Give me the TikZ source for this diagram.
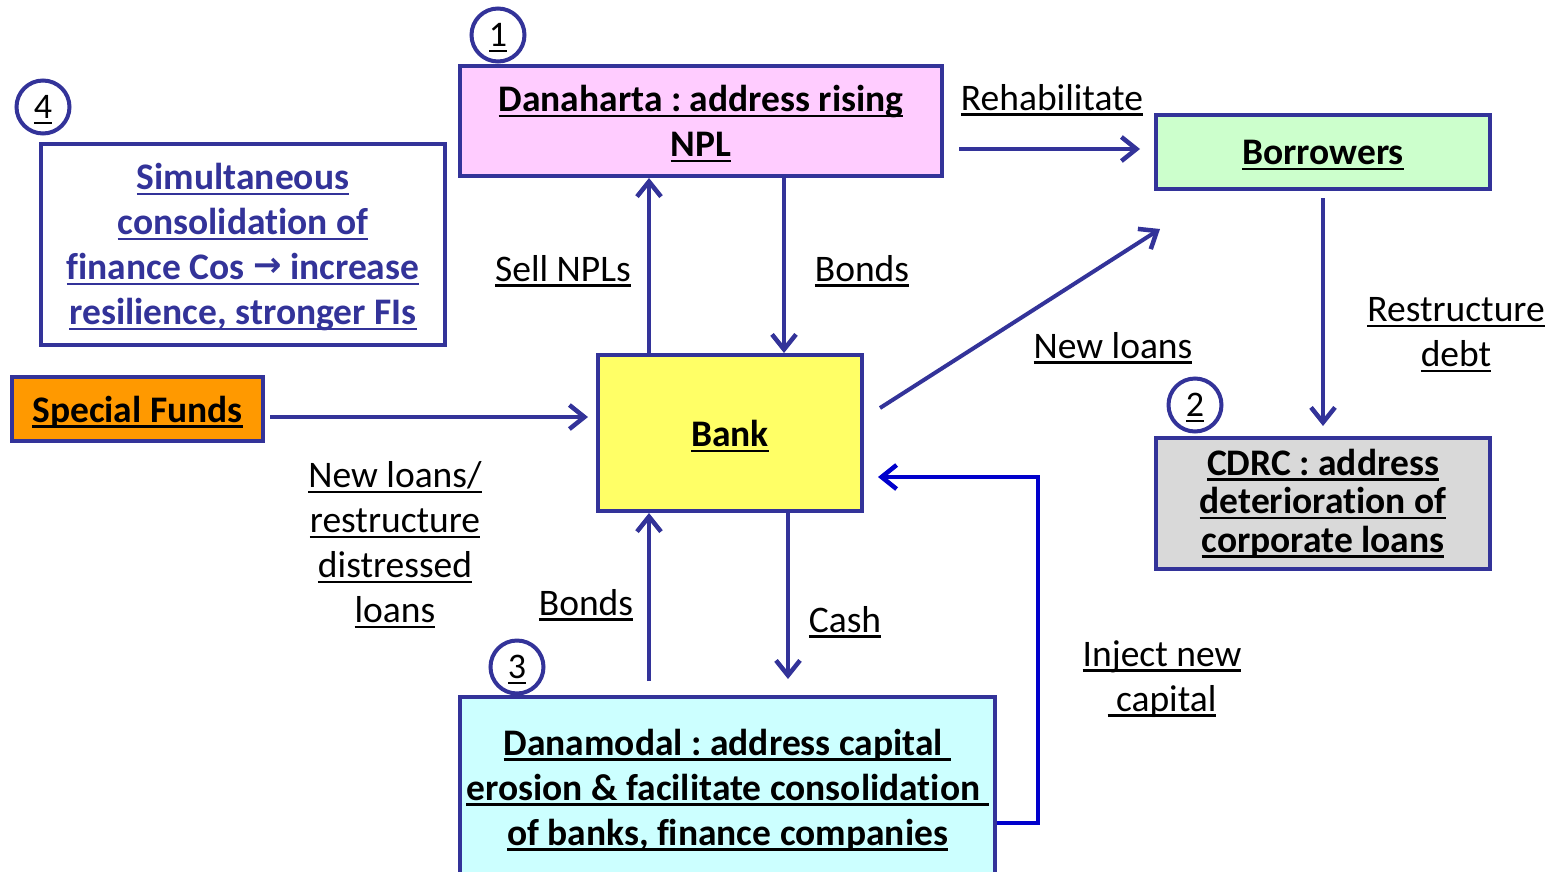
\documentclass[tikz,border=0pt]{standalone}
\usepackage{fontspec}
\setmainfont{Carlito}[Ligatures={NoCommon}]
\newfontfamily\djv{DejaVu Sans}
\usetikzlibrary{arrows.meta,calc}
\definecolor{dblue}{HTML}{333399}
\definecolor{pinkf}{HTML}{FFCCFF}
\definecolor{greenf}{HTML}{CCFFCC}
\definecolor{orangef}{HTML}{FF9900}
\definecolor{yellowf}{HTML}{FFFF66}
\definecolor{grayf}{HTML}{D9D9D9}
\definecolor{cyanf}{HTML}{CCFFFF}
\definecolor{injblue}{HTML}{0000CC}
\frenchspacing
\newcommand\ulin[1]{\setbox0\hbox{#1}\leavevmode\raisebox{-3pt}[\height][\depth]{\rlap{\rule[-5.5pt]{\wd0}{2.4pt}}\copy0}}
\tikzset{
  box/.style={draw=dblue, line width=4pt, rectangle, inner sep=0pt, align=center,
    font=\fontsize{37.5}{45}\selectfont\bfseries},
  lbl/.style={inner sep=0pt, align=center, font=\fontsize{37.5}{45}\selectfont},
  num/.style={draw=dblue, line width=4pt, circle, minimum size=53pt, inner sep=0pt,
    fill=white, font=\fontsize{36}{40}\selectfont},
  arr/.style={draw=dblue, line width=4pt,
    -{Straight Barb[length=15pt,width=24pt,line width=4.5pt]}},
}
\begin{document}
\begin{tikzpicture}[x=1pt,y=-1pt]
\useasboundingbox (0,0) rectangle (1559,871);
\clip (0,0) rectangle (1559,871);
% boxes
\node[box, fill=pinkf, minimum width=482pt, minimum height=110pt] (dana) at (701,121)
  {\ulin{Danaharta : address rising}\\\ulin{NPL}};
\node[box, fill=greenf, minimum width=334pt, minimum height=74pt] (borr) at (1323,152)
  {\ulin{Borrowers}};
\node[box, fill=white, minimum width=404pt, minimum height=201pt, text=dblue] (simu) at (243,244)
  {\ulin{Simultaneous}\\\ulin{consolidation of}\\\ulin{finance Cos {\djv\fontsize{34}{36}\selectfont\raisebox{3pt}{→}} increase}\\\ulin{resilience, stronger FIs}};
\node[box, fill=orangef, minimum width=251pt, minimum height=64pt] (spec) at (137.5,409)
  {\ulin{Special Funds}};
\node[box, fill=yellowf, minimum width=264pt, minimum height=156pt] (bank) at (730,433)
  {\ulin{Bank}};
\node[box, fill=grayf, minimum width=334pt, minimum height=131pt] (cdrc) at (1323,503.5) {};
\node[box, draw=none, font=\fontsize{37.5}{38.5}\selectfont\bfseries] (cdrctxt) at (1323,500.5)
  {\ulin{CDRC : address}\\\ulin{deterioration of}\\\ulin{corporate loans}};
\node[box, fill=cyanf, minimum width=535pt, minimum height=180pt] (dmod) at (727.5,787)
  {\ulin{Danamodal : address capital }\\\ulin{erosion \& facilitate consolidation }\\\ulin{of banks, finance companies}};
% numbered circles
\node[num] (n1) at (498,35) {\ulin{1}};
\node[num] (n4) at (43,107) {\ulin{4}};
\node[num] (n2) at (1195,405) {\ulin{2}};
\node[num] (n3) at (517,667) {\ulin{3}};
% connectors
\coordinate (xa) at (649,0);
\coordinate (xb) at (784,0);
\coordinate (xc) at (788,0);
\coordinate (yr) at (0,149);
\coordinate (ys) at (0,417);
\coordinate (yi) at (0,477);
\coordinate (yj) at (0,823);
\coordinate (nl1) at (880,408);
\coordinate (nl2) at (1160,229);
\coordinate (inj1) at (1038,823);
\coordinate (inj2) at (1038,477);
\draw[arr] (bank.north -| xa) -- (dana.south -| xa);
\draw[arr] (dana.south -| xb) -- (bank.north -| xb);
\draw[arr, shorten <=15pt, shorten >=14pt] (dana.east |- yr) -- (borr.west |- yr);
\draw[arr] (nl1) -- (nl2);
\draw[arr, shorten <=7pt, shorten >=10pt] (borr.south) -- (cdrc.north);
\draw[arr, shorten <=5pt, shorten >=8pt] (spec.east |- ys) -- (bank.west |- ys);
\draw[arr, shorten <=14pt] (dmod.north -| xa) -- (bank.south -| xa);
\draw[arr, shorten >=16pt] (bank.south -| xc) -- (dmod.north -| xc);
\draw[draw=injblue, line width=4pt, -{Straight Barb[length=15pt,width=24pt,line width=4.5pt]},
  shorten >=14pt] (dmod.east |- yj) -- (inj1) -- (inj2) -- (bank.east |- yi);
% labels
\node[lbl] (lsell) at (563,268) {\ulin{Sell NPLs}};
\node[lbl] (lbonds1) at (862,268) {\ulin{Bonds}};
\node[lbl] (lrehab) at (1052,97) {\ulin{Rehabilitate}};
\node[lbl] (lnew) at (1113,345) {\ulin{New loans}};
\node[lbl] (lrest) at (1456,332) {\ulin{Restructure}\\\ulin{debt}};
\node[lbl] (lnlr) at (395,542) {\ulin{New loans/}\\\ulin{restructure}\\\ulin{distressed}\\\ulin{loans}};
\node[lbl] (lbonds2) at (586,602) {\ulin{Bonds}};
\node[lbl] (lcash) at (845,619) {\ulin{Cash}};
\node[lbl] (linj) at (1162,676) {\ulin{Inject new}\\\ulin{ capital}};
\end{tikzpicture}
\end{document}
